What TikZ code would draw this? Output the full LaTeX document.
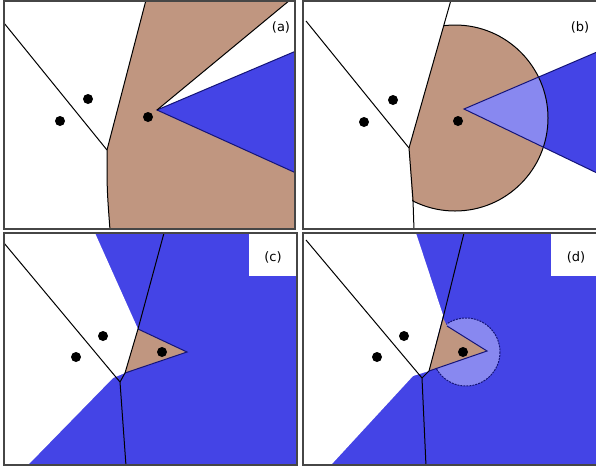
\documentclass[tikz,border=0pt]{standalone}
\usepackage{fontspec}
\setsansfont{DejaVu Sans}
\usepackage{tikz}
\usepackage{xcolor}
\definecolor{cellbrown}{RGB}{192,150,128}
\definecolor{cellblue}{RGB}{68,68,230}
\definecolor{celllight}{RGB}{136,136,240}
\definecolor{framegray}{RGB}{70,70,70}
\definecolor{edgeblue}{RGB}{20,20,120}

\begin{document}
\begin{tikzpicture}[x=1pt,y=-1pt,
  site/.style={circle,fill=black,inner sep=0pt,minimum size=10pt},
  bisector/.style={draw=black,line width=1pt},
  blueedge/.style={draw=edgeblue,line width=1pt},
  panel/.style={draw=framegray,line width=1.3pt},
  tag/.style={font=\sffamily\fontsize{13}{15}\selectfont,inner sep=0pt}]
\useasboundingbox (0,0) rectangle (596,472);
\fill[white] (0,0) rectangle (596,472);
% (a)
\begin{scope}
\clip (4,1) rectangle (295,229);
\fill[cellbrown] (146,0) -- (290,0) -- (157,110) -- (296,173) -- (296,230) -- (110,230) .. controls (107,190) .. (107,150) -- cycle;
\fill[cellblue] (157,110) -- (296,51) -- (296,173) -- cycle;
\draw[blueedge] (296,51) -- (157,110) -- (296,173);
\draw[bisector] (146,0) -- (107,150) .. controls (107,190) .. (110,230);
\draw[bisector] (290,0) -- (157,110);
\draw[bisector] (4,23) -- (107,150);
\end{scope}
\draw[panel] (4,1) rectangle (295,229);
\node[site] (a1) at (88,99) {};
\node[site] (a2) at (60,121) {};
\node[site] (a3) at (148,117) {};
\node[tag] (taga) at (281,27) {(a)};
% (b)
\begin{scope}
\clip (303,1) rectangle (597,229);
\fill[cellblue] (464,109) -- (597,52) -- (597,173) -- cycle;
\begin{scope}
\clip (451,0) -- (409,148) -- (414,230) -- (597,230) -- (597,0) -- cycle;
\fill[cellbrown] (455,118) circle (93);
\begin{scope}
\clip (455,118) circle (93);
\fill[celllight] (464,109) -- (597,52) -- (597,173) -- cycle;
\end{scope}
\draw[bisector] (455,118) circle (93);
\end{scope}
\draw[blueedge] (597,52) -- (464,109) -- (597,173);
\draw[bisector] (451,0) -- (409,148) -- (413,200) -- (414,230);
\draw[bisector] (306,21) -- (409,148);
\end{scope}
\draw[panel] (303,1) rectangle (597,229);
\node[site] (b1) at (393,100) {};
\node[site] (b2) at (364,122) {};
\node[site] (b3) at (458,121) {};
\node[tag] (tagb) at (580,27) {(b)};
% (c)
\begin{scope}
\clip (4,233) rectangle (297,465);
\fill[cellblue] (4,233) rectangle (297,465);
\fill[white] (4,233) -- (95,233) -- (138,329) -- (125,373) -- (113,378) -- (28,465) -- (4,465) -- cycle;
\fill[cellbrown] (138,329) -- (187,352) -- (125,373) -- cycle;
\draw[blueedge] (138,329) -- (187,352) -- (125,373);
\draw[bisector] (164,233) -- (138,329) -- (125,373) -- (120,382) -- (126,466);
\draw[bisector] (4,243) -- (120,382);
\fill[white] (249,233) rectangle (297,276);
\end{scope}
\draw[panel] (4,233) rectangle (297,465);
\node[site] (c1) at (103,336) {};
\node[site] (c2) at (76,357) {};
\node[site] (c3) at (162,352) {};
\node[tag] (tagc) at (273,257) {(c)};
% (d)
\begin{scope}
\clip (303,233) rectangle (597,465);
\fill[cellblue] (303,233) rectangle (597,465);
\fill[white] (303,233) -- (416,233) -- (443,315) -- (429,371) -- (413,376) -- (331,465) -- (303,465) -- cycle;
\begin{scope}
\clip (464,233) -- (443,318) -- (429,371) -- (422,378) -- (426,466) -- (597,466) -- (597,233) -- cycle;
\fill[celllight] (466,352) circle (34);
\draw[blueedge,dash pattern=on 2pt off 1pt] (466,352) circle (34);
\end{scope}
\fill[cellbrown] (443,318) -- (447,326) -- (487,351) -- (429,371) -- cycle;
\draw[blueedge] (447,326) -- (487,351) -- (429,371);
\draw[bisector] (464,233) -- (443,318) -- (429,371) -- (422,378) -- (426,466);
\draw[bisector] (306,240) -- (422,378);
\fill[white] (551,233) rectangle (597,276);
\end{scope}
\draw[panel] (303,233) rectangle (597,465);
\node[site] (d1) at (404,336) {};
\node[site] (d2) at (377,357) {};
\node[site] (d3) at (463,352) {};
\node[tag] (tagd) at (576,257) {(d)};
\end{tikzpicture}
\end{document}
